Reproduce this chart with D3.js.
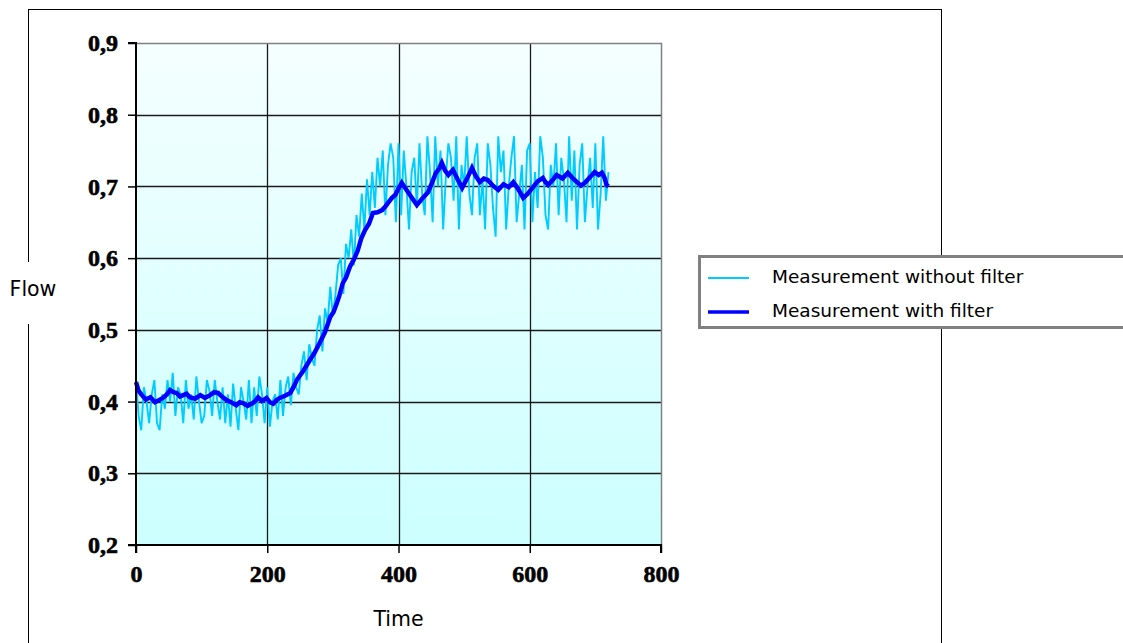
<!DOCTYPE html>
<meta charset="utf-8">
<head>
  <title>Flow measurement</title>
</head>
<style>
  body { margin: 0; background: #fff; }
  .tick-label { font-family: "Liberation Serif", serif; font-weight: bold; font-size: 24px; stroke: #000; stroke-width: 0.6px; }
  .axis-title { font-family: "DejaVu Sans", sans-serif; font-size: 20.5px; }
  .legend-text { font-family: "DejaVu Sans", sans-serif; font-size: 18.5px; }
</style>
<body>
<div id="chart"></div>
<script src="https://d3js.org/d3.v7.min.js"></script>
<script>

// tick labels
var xTicks = [0, 200, 400, 600, 800];
var yTicks = [0.2, 0.3, 0.4, 0.5, 0.6, 0.7, 0.8, 0.9];

// raw measurement, one sample every 4 time units starting at 0
var rawStep = 4;
var rawValues = [
  0.43,0.38,0.36,0.42,0.40,0.37,0.41,0.43,0.37,0.36,
  0.41,0.39,0.43,0.40,0.44,0.38,0.42,0.41,0.37,0.43,
  0.39,0.41,0.375,0.435,0.40,0.37,0.38,0.43,0.415,0.38,
  0.43,0.40,0.375,0.42,0.37,0.41,0.365,0.425,0.39,0.36,
  0.42,0.40,0.375,0.43,0.37,0.42,0.38,0.435,0.41,0.37,
  0.42,0.365,0.40,0.41,0.375,0.43,0.38,0.42,0.435,0.395,
  0.44,0.42,0.41,0.45,0.47,0.43,0.48,0.46,0.45,0.50,
  0.52,0.47,0.53,0.51,0.56,0.52,0.55,0.59,0.60,0.55,
  0.62,0.60,0.64,0.59,0.66,0.63,0.69,0.64,0.71,0.66,
  0.72,0.67,0.74,0.70,0.75,0.66,0.73,0.76,0.74,0.65,
  0.76,
  0.66,0.75,0.70,0.64,0.72,0.74,0.67,0.76,0.69,0.66,
  0.77,0.72,0.65,0.77,0.70,0.75,0.64,0.71,0.76,0.74,
  0.68,0.77,0.64,0.73,0.70,0.77,0.69,0.66,0.74,0.76,
  0.66,0.71,0.64,0.76,0.73,0.67,0.63,0.77,0.72,0.75,
  0.64,0.70,0.74,0.77,0.65,0.69,0.73,0.64,0.75,0.76,
  0.65,0.72,0.67,0.77,0.74,0.66,0.64,0.73,0.70,0.76,
  0.66,0.74,0.71,0.65,0.77,0.68,0.75,0.64,0.73,0.76,
  0.65,0.70,0.74,0.67,0.76,0.64,0.69,0.77,0.68,0.72
];

// filtered measurement
var filterTimes = [0,4,8,15,22,29,35,41,47,52,57,62,67,72,77,82,90,98,105,113,
  119,125,131,138,145,153,158,163,170,178,182,186,192,199,204,209,214,219,227,235,
  240,245,255,265,272,280,288,296,301,306,310,315,320,326,332,338,343,349,355,361,
  368,375,380,384,390,395,400,405,410,419,428,436,445,451,457,462,466,471,476,480,
  483,490,497,505,512,518,524,530,536,544,552,560,568,575,582,590,597,605,612,620,
  624,628,635,641,650,658,665,672,678,684,692,699,705,710,714,717,720];
var filterValues = [0.427,0.415,0.41,0.403,0.406,0.399,0.402,0.405,0.41,0.416,
  0.413,0.412,0.407,0.409,0.411,0.406,0.404,0.409,0.405,0.409,
  0.413,0.412,0.407,0.402,0.399,0.395,0.399,0.398,0.394,0.398,
  0.401,0.406,0.401,0.405,0.399,0.397,0.402,0.405,0.408,0.412,
  0.42,0.430,0.443,0.458,0.468,0.482,0.497,0.518,0.525,0.537,
  0.548,0.565,0.573,0.588,0.598,0.611,0.627,0.639,0.648,0.663,
  0.664,0.667,0.672,0.677,0.684,0.688,0.697,0.705,0.698,0.686,
  0.674,0.683,0.692,0.705,0.719,0.725,0.733,0.722,0.716,0.72,
  0.723,0.71,0.698,0.712,0.726,0.714,0.706,0.711,0.709,0.701,
  0.695,0.703,0.699,0.706,0.697,0.684,0.69,0.699,0.707,0.712,
  0.706,0.702,0.709,0.716,0.711,0.719,0.712,0.706,0.701,0.705,
  0.713,0.720,0.716,0.719,0.712,0.702,0.700];

var seriesNames = ["Measurement without filter", "Measurement with filter"];

var W = 1123, H = 643;
var plot = {left: 136, top: 43, right: 661, bottom: 545};

var svg = d3.select("#chart").append("svg")
  .attr("width", W).attr("height", H);

// outer frame
svg.append("rect")
  .attr("x", 28.5).attr("y", 9.5).attr("width", 913).attr("height", 700)
  .attr("fill", "none").attr("stroke", "#000").attr("stroke-width", 1);

var x = d3.scaleLinear().domain([0, 800]).range([plot.left, plot.right]);
var y = d3.scaleLinear().domain([0.2, 0.9]).range([plot.bottom, plot.top]);

// background gradient
var grad = svg.append("defs").append("linearGradient")
  .attr("id", "bg").attr("x1", 0).attr("y1", 0).attr("x2", 0).attr("y2", 1);
grad.append("stop").attr("offset", "0%").attr("stop-color", "#f5ffff");
grad.append("stop").attr("offset", "100%").attr("stop-color", "#ccffff");

svg.append("rect")
  .attr("x", plot.left).attr("y", plot.top)
  .attr("width", plot.right - plot.left).attr("height", plot.bottom - plot.top)
  .attr("fill", "url(#bg)");

// grid lines
svg.append("g")
  .selectAll("line").data(yTicks.slice(1, -1)).enter().append("line")
  .attr("x1", plot.left).attr("x2", plot.right)
  .attr("y1", function(d) { return Math.round(y(d)) + 0.5; })
  .attr("y2", function(d) { return Math.round(y(d)) + 0.5; })
  .attr("stroke", "#1a1a1a").attr("stroke-width", 1.3);
svg.append("g")
  .selectAll("line").data(xTicks.slice(1, -1)).enter().append("line")
  .attr("y1", plot.top).attr("y2", plot.bottom)
  .attr("x1", function(d) { return Math.round(x(d)) + 0.5; })
  .attr("x2", function(d) { return Math.round(x(d)) + 0.5; })
  .attr("stroke", "#1a1a1a").attr("stroke-width", 1.3);

// grey top and right border
svg.append("path")
  .attr("d", "M" + plot.left + "," + (plot.top + 0.5) + "H" + (plot.right + 0.5) + "V" + plot.bottom)
  .attr("fill", "none").attr("stroke", "#808080").attr("stroke-width", 1.5);

// series
var rawLine = d3.line()
  .x(function(d, i) { return x(i * rawStep); })
  .y(function(d) { return y(d); });
svg.append("path")
  .datum(rawValues)
  .attr("d", rawLine)
  .attr("fill", "none").attr("stroke", "#00ccff").attr("stroke-width", 1.9);

var filterLine = d3.line()
  .x(function(d, i) { return x(filterTimes[i]); })
  .y(function(d) { return y(d); });
svg.append("path")
  .datum(filterValues)
  .attr("d", filterLine)
  .attr("fill", "none").attr("stroke", "#0000ff").attr("stroke-width", 4.5);

// axes
var yAxis = svg.append("g")
  .attr("transform", "translate(" + plot.left + ",0)")
  .call(d3.axisLeft(y).tickValues(yTicks).tickSize(8).tickPadding(10)
    .tickFormat(function(d) { return d3.format(".1f")(d).replace(".", ","); }));
var xAxis = svg.append("g")
  .attr("transform", "translate(0," + plot.bottom + ")")
  .call(d3.axisBottom(x).tickValues(xTicks).tickSize(8).tickPadding(12));

[xAxis, yAxis].forEach(function(a) {
  a.select(".domain").attr("stroke", "#000").attr("stroke-width", 2);
  a.selectAll(".tick line").attr("stroke", "#000").attr("stroke-width", 1.5);
  a.selectAll(".tick text").attr("class", "tick-label").attr("fill", "#000");
});
yAxis.select(".domain").attr("d", "M-8," + plot.top + "H0V" + plot.bottom + "H-8");
xAxis.select(".domain").attr("d", "M" + plot.left + ",8V0H" + plot.right + "V8");

// axis titles (white patch breaks the frame behind "Flow")
svg.append("rect").attr("x", 4).attr("y", 262).attr("width", 60).attr("height", 62).attr("fill", "#fff");
svg.append("text").attr("class", "axis-title")
  .attr("x", 33).attr("y", 290).attr("text-anchor", "middle").attr("dominant-baseline", "middle")
  .text("Flow");
svg.append("text").attr("class", "axis-title")
  .attr("x", x(400)).attr("y", 620).attr("text-anchor", "middle").attr("dominant-baseline", "middle")
  .text("Time");

// legend
var legend = svg.append("g");
legend.append("rect")
  .attr("x", 699.5).attr("y", 256.5).attr("width", 430).attr("height", 71)
  .attr("fill", "#fff").attr("stroke", "#808080").attr("stroke-width", 3);
var legendColors = ["#00ccff", "#0000ff"];
var legendWidths = [2, 3.5];
seriesNames.forEach(function(name, i) {
  var ly = 278 + i * 34;
  legend.append("line")
    .attr("x1", 708).attr("x2", 749).attr("y1", ly).attr("y2", ly)
    .attr("stroke", legendColors[i]).attr("stroke-width", legendWidths[i]);
  legend.append("text").attr("class", "legend-text")
    .attr("x", 772).attr("y", ly).attr("dominant-baseline", "middle")
    .text(name);
});

</script>
</body>
</html>
